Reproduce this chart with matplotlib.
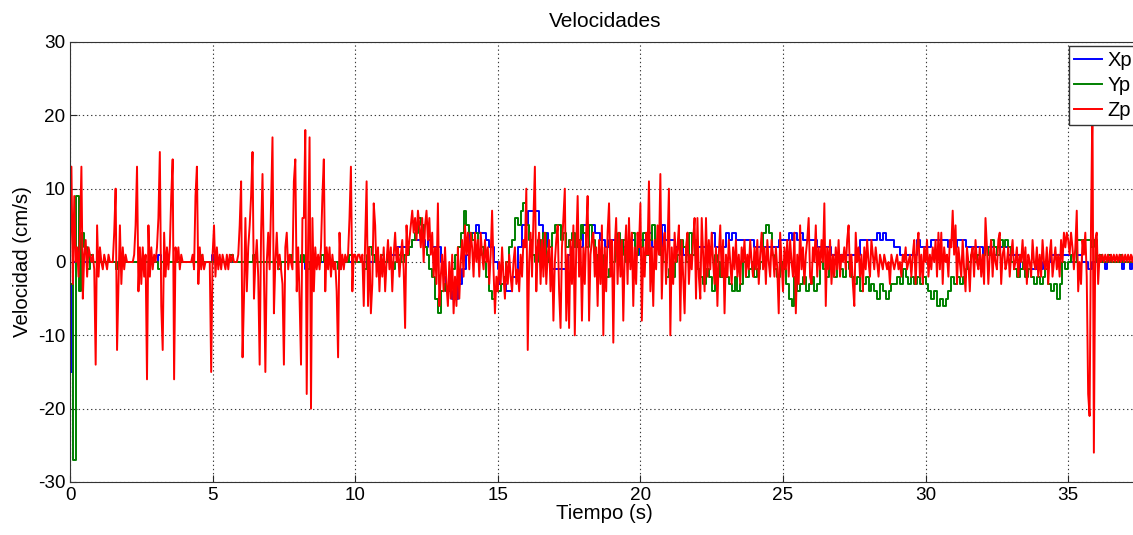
import numpy as np
import matplotlib
matplotlib.use("Agg")
import matplotlib.pyplot as plt

plt.rcParams['font.family'] = ['Liberation Sans', 'DejaVu Sans']
plt.rcParams['font.size'] = 14.7
plt.rcParams['axes.unicode_minus'] = False

# Zp, sampled every 0.05 s (one row per second)
z_vel = [
    2, 13, -3, 9, 0, 2, -2, 4, 13, -5, 1, 3, -2, 2, 1, 0, 1, -1, -14, 5,
    -2, 2, 0, -1, 1, 0, -1, 1, 0, 0, 0, 4, 10, -12, -3, 5, -3, 2, -1, 1,
    0, 0, 0, 0, 0, 1, 5, 13, -4, 2, -3, 2, -2, 1, -16, 5, -2, 2, -1, 1,
    0, 2, 6, 15, -6, -12, 4, -2, 2, -1, 2, 9, 14, -16, 2, 0, 2, -1, 1, 0,
    0, 0, 0, 0, 0, 0, 1, -1, 9, 13, -3, 2, -1, 1, -1, 0, 0, 0, 0, -15,
    1, 5, -2, 2, -1, 1, -1, 1, 0, -1, 1, -1, 1, 0, 1, 0, 0, 0, 1, 5,
    11, -13, -5, 6, -4, 2, 5, 9, 15, -5, 0, 3, -2, -14, 4, 12, -2, -15, 0, 4,
    -1, 8, 17, -7, 0, 4, -1, 1, -1, -3, -14, 2, 4, -1, 1, 0, -1, 11, 14, -4,
    2, -5, -14, 6, 6, 18, -18, 3, 17, -20, 6, -4, 2, -1, 1, -1, 2, 9, 14, -4,
    2, -1, 2, -2, 1, -1, 0, -4, -13, 4, -1, 1, -1, 1, 0, 1, 6, 13, -4, 1,
    1, 0, 1, 1, 0, 1, -6, 3, 11, -6, 2, -7, -3, 8, 5, -2, 2, -4, 1, -2,
    2, -4, 0, 3, -1, 2, -4, 1, 4, 0, 2, -2, 1, 3, -1, -9, 5, 1, 3, 5,
    7, 4, 6, 3, 7, 5, 2, 6, 0, 5, 7, 3, 6, 1, 4, -2, 2, -3, 8, -6,
    -2, 1, -4, 2, -3, -6, 0, -5, 1, -7, -2, -6, 2, -5, 0, 3, -2, 5, 1, 4,
    -1, 4, 2, -2, 4, 0, 3, -2, 4, 1, -1, 3, 0, 2, -3, 1, 7, -1, -7, -2,
    -4, 0, -3, 2, -2, -5, 0, -3, 1, -2, -4, 0, 2, -3, -1, -4, 1, -2, 3, 2,
    10, -12, 0, 4, -2, 6, 13, -4, 2, 4, -3, 3, -2, 4, -3, 1, 3, -4, 2, -8,
    0, 3, 5, -4, -9, 2, 6, 10, -8, 1, -9, 3, -3, 5, -10, 2, 9, -2, 3, -8,
    2, -3, 4, 9, -8, 1, 3, 4, -2, 2, -6, 3, -3, 5, -10, 2, -4, 4, 8, -2,
    3, -11, 2, 6, -3, 4, -2, 3, -8, 1, 5, -3, 6, -1, 4, -6, 2, -3, 4, 2,
    8, -8, 2, -2, 4, 1, 11, -4, 2, -6, 3, -1, 5, 1, 12, -5, 2, 4, -3, 2,
    10, -10, 2, -3, 4, 0, 2, 5, -8, 3, -2, -7, 2, 4, -3, 1, -1, 3, 6, -5,
    6, -2, -5, 6, 1, -4, 6, -2, 3, -1, 4, 0, -3, 2, -6, 1, 5, -2, 3, -7,
    1, -2, 3, 0, -3, 2, -1, 3, -2, 1, -3, 2, 0, 3, -2, 1, -1, 3, 0, -2,
    2, -1, 3, -3, 1, 4, -1, 2, -3, 3, 0, -2, 3, 1, -2, 2, -1, -7, 4, 0,
    -4, 2, -1, 3, -2, 3, 0, -2, 4, -7, 1, -3, 5, -1, 2, -3, 1, 3, 6, -2,
    -3, 2, 0, 5, -2, 2, -1, 3, 0, 8, -6, 2, -1, 3, -3, 1, -2, 2, -1, 3,
    -2, 1, 0, 2, -1, 3, 5, -2, 1, -3, -6, 4, 0, 2, -2, 1, -4, 2, -1, 3,
    0, -2, 3, 1, -1, 2, 0, -2, 1, 0, -1, 1, 0, -1, 0, -3, 1, 0, -1, 0,
    1, -1, 0, -2, 1, 0, 2, -1, 0, 1, -2, 1, 3, -3, 2, 4, -2, 1, -3, 2,
    0, 3, -2, 1, -1, 2, 0, 3, -2, 4, -1, 4, -3, 2, 0, 1, -2, 3, 2, 7,
    1, 5, -3, 2, 0, -2, 3, -1, -4, 2, 0, -4, 1, 2, -2, 3, 0, -1, 2, -2,
    1, -3, 6, 2, -3, 1, 3, -2, 2, 0, -1, 3, 4, -3, 1, 2, -1, 0, 2, -2,
    1, 3, -1, 0, 2, -2, 1, 0, 3, -1, 2, -3, 1, 0, -2, 3, 0, -1, 2, -2,
    1, -2, 3, 0, -1, 2, -3, 1, 3, -2, 0, 2, -1, 1, -2, 3, 0, 4, 2, 4,
    3, 1, 4, 2, -1, 2, 7, -4, 0, -3, 3, 1, 4, -2, -18, -21, 5, 22, -26, 3,
    4, -3, 1, 0, 1, 0, 1, 0, 1, 0, 1, 0, 1, 0, 1, 0, 1, 0, 1, 0,
    1, 0, 1, 0, 1, 0, 1, 0, 1, 0,
]

# Yp, sampled every 0.1 s
y_vel = [
    -3, -27, 9, -4, 4, 2, -1, 1, 0, 0,
    0, 0, 0, 0, 0, 0, -1, 0, 0, 0,
    0, 0, 0, 0, 0, 0, 0, 0, 0, 0,
    0, -1, 0, 0, 0, 0, 0, 0, 0, 0,
    0, 0, 0, 0, 0, 1, 0, 0, 0, 0,
    0, 0, 0, 0, 0, 0, 1, 0, 0, 0,
    0, 0, 0, 0, 1, 0, 0, 0, 0, 0,
    0, 0, 0, -1, 0, 0, 0, 1, 0, 0,
    0, 1, 0, -1, 0, 0, 0, 0, 1, 0,
    0, 0, 0, 0, -1, 0, 0, 0, 1, 0,
    0, 0, 0, -1, 1, 2, 1, 0, 0, 1,
    0, 1, 0, -1, 0, 1, 0, 1, 1, 2,
    3, 4, 6, 5, 2, 1, -1, -2, -5, -7,
    -4, -3, -4, -2, -1, 1, 2, 4, 7, 5,
    4, 3, 4, 1, 2, 0, -2, -4, -5, -4,
    -4, -3, -2, 0, 2, 3, 6, 5, 7, 8,
    5, 3, 1, 0, 3, 1, 4, 0, 2, 4,
    5, 5, 3, 4, 2, 3, 4, 2, 3, 5,
    4, 2, 5, 3, 1, 0, 1, -1, -2, -1,
    0, 2, 4, 1, 3, 0, 2, 4, 1, 3,
    2, 4, 1, 3, 5, 2, 4, 1, 0, -2,
    -1, -2, 0, 1, 3, 2, 0, 4, 1, 3,
    -1, -2, -3, -1, -2, -4, 1, 0, -2, -1,
    -2, -3, -4, -2, -4, -3, 0, -2, -1, 0,
    -2, -1, 0, 4, 5, 4, 1, -1, -2, 0,
    -1, -3, -5, -6, -2, -4, -3, -2, -4, -3,
    -2, -4, -3, 0, -1, -2, 0, -1, -2, 0,
    -1, -2, 0, -1, -2, -3, -2, -4, -3, -2,
    -4, -3, -4, -5, -3, -4, -5, -4, -3, -3,
    -2, -3, -1, -2, -3, -2, -3, -2, -3, -2,
    -3, -4, -5, -4, -6, -5, -6, -5, -4, -2,
    -3, -2, -3, -2, -1, 0, 1, 0, 1, 0,
    1, 2, 1, 3, 2, 1, 3, 2, 3, 2,
    0, -1, -2, -1, 0, -2, -1, -2, -3, -2,
    -3, -2, -1, -3, -4, -3, -5, -3, 0, -1,
    0, 1, 0, 3, 3, 3, 3, 3, 2, 3,
    0, 1, 0, 0, 1, 0, 0, 0, 1, 0,
    0, 0, 0, 0, 0,
]

# Xp changes in steps: times where the level changes and the new level
x_times = [0.0, 0.05, 0.12, 1.6, 1.7, 3.1, 3.2, 4.98, 5.05, 8.25, 8.32,
           11.15, 11.45, 12.0, 12.45, 12.55, 12.7, 13.0, 13.1, 13.2, 13.4,
           13.6, 13.75, 13.9, 14.0, 14.25, 14.35, 14.6, 14.7, 14.85, 15.0,
           15.05, 15.3, 15.5, 15.7, 15.85, 16.05, 16.45, 16.6, 16.75, 16.8,
           16.9, 17.45, 17.6, 18.0, 18.4, 18.6, 18.75, 18.9, 19.4, 19.6,
           19.8, 19.95, 20.2, 20.4, 20.75, 20.85, 21.2, 21.5, 22.0, 22.5,
           22.6, 23.0, 23.1, 23.2, 23.35, 24.0, 24.85, 25.2, 25.3, 25.4,
           25.5, 25.6, 25.7, 26.2, 26.7, 27.7, 28.3, 28.4, 28.5, 28.6,
           28.9, 29.1, 29.7, 29.8, 30.2, 30.8, 30.9, 31.0, 31.1, 31.4,
           32.0, 32.1, 32.4, 32.5, 32.9, 33.3, 33.9, 34.0, 34.1, 34.4,
           35.1, 35.3, 35.5, 35.7, 35.85, 36.3, 36.35, 36.9, 36.95, 37.15,
           37.25, 37.45]
x_levels = [-3, -15, 0, -1, 0, 1, 0, 1, 0, -1, 0,
            1, 2, 3, 2, 3, 2, 0, -2, -4, -5,
            -3, -1, 1, 4, 5, 4, 3, 2, 0, -1,
            -3, -4, -2, 2, 5, 7, 5, 4, 2, 0,
            -1, 1, 2, 5, 4, 3, 2, 3, 2, 3,
            1, 3, 4, 2, 5, 3, 2, 1, 2, 4,
            2, 4, 3, 4, 3, 2, 3, 4, 3, 4,
            3, 4, 3, 2, 1, 3, 4, 3, 4, 3,
            2, 1, 3, 2, 3, 2, 3, 2, 3, 2,
            1, 2, 1, 2, 1, -1, 0, -1, 0, 1,
            0, 1, 0, -1, 0, -1, 0, -1, 0, -1,
            0, 0]

t_z = np.arange(len(z_vel)) * 0.05
t_y = np.arange(len(y_vel)) * 0.1

fig = plt.figure(figsize=(11.33, 5.35), dpi=100)
ax = fig.add_axes([70 / 1133, 53 / 535, 1069.5 / 1133, 440 / 535])

ax.plot(x_times, x_levels, color=(0, 0, 1), lw=1.4, drawstyle='steps-post', label='Xp')
ax.plot(t_y, y_vel, color=(0, 0.5, 0), lw=1.4, drawstyle='steps-post', label='Yp')
ax.plot(t_z, z_vel, color=(1, 0, 0), lw=1.4, label='Zp')

ax.set_xlim(0, 37.5)
ax.set_ylim(-30, 30)
ax.set_xticks(np.arange(0, 36, 5))
ax.set_yticks(np.arange(-30, 31, 10))
ax.grid(True, linestyle=(0, (1.2, 2.5)), color='#3a3a3a', lw=0.8)
ax.tick_params(direction='in', length=5, colors='#262626', labelcolor='black',
               labelsize=13.6, pad=3.3)
for sp in ax.spines.values():
    sp.set_color('#333333')

ax.set_title('Velocidades', pad=11, fontsize=15)
ax.set_xlabel('Tiempo (s)', labelpad=0.5)
ax.set_ylabel('Velocidad (cm/s)', labelpad=4)

leg = ax.legend(loc='upper left', bbox_to_anchor=(1069 / 1133, 1 - 46 / 535),
                bbox_transform=fig.transFigure, fancybox=False, framealpha=1,
                edgecolor='#333333', handlelength=1.4, handletextpad=0.25,
                labelspacing=0.3, borderpad=0.25, borderaxespad=0, fontsize=14.5)
leg.get_frame().set_linewidth(1.0)

fig.savefig('out.png', dpi=100)
